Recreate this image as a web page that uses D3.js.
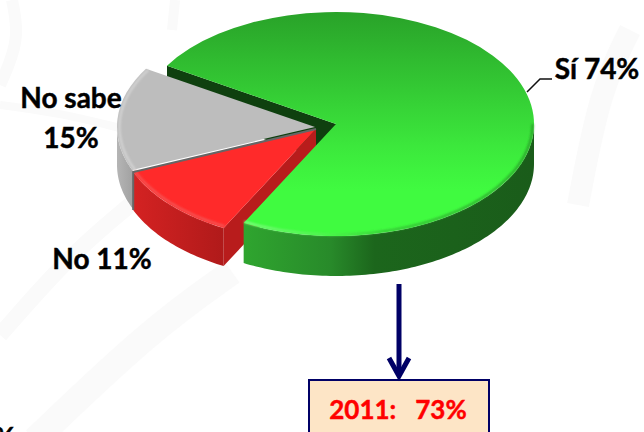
<!DOCTYPE html>
<html>
<head>
<meta charset="utf-8">
<script src="https://cdnjs.cloudflare.com/ajax/libs/d3/7.8.5/d3.min.js"></script>
<style>
  html, body { margin: 0; padding: 0; background: #fff; }
  svg { display: block; }
  text { font-family: Lato, "Open Sans", sans-serif; font-weight: bold; stroke-width: 0.45; paint-order: stroke; }
</style>
</head>
<body>
<script>
var categories = ['Sí', 'No', 'No sabe'];
var values = [74, 11, 15];
var previousYear = '2011:';
var previousValue = '73%';

var width = 644, height = 432;
var rx = 198, ry = 112;
var startAngle = -58.6 * Math.PI / 180;
var pies = d3.pie().sort(null).startAngle(startAngle).endAngle(startAngle + 2 * Math.PI)(values);

// where each slice got pulled out to, and how thick it looks
var centers = [[336, 124], [316, 129], [315, 127]];
var depths = [40, 38, 38];

var svg = d3.select('body').append('svg').attr('width', width).attr('height', height);
var defs = svg.append('defs');

function gradient (id, x2, y2, stops) {
  var g = defs.append('linearGradient').attr('id', id)
    .attr('x1', 0).attr('y1', 0).attr('x2', x2).attr('y2', y2);
  stops.forEach(function (s) {
    g.append('stop').attr('offset', s[0]).attr('stop-color', s[1]);
  });
}
gradient('greenTop', 0, 1, [[0, '#29a229'], [0.6, '#3ce83c'], [0.8, '#40fb40'], [1, '#40fb40']]);
gradient('greenSide', 1, 0, [[0, '#2fa52f'], [0.3, '#288a2a'], [0.45, '#1c661c'], [1, '#1a5c1a']]);
gradient('greenRim', 1, 0, [[0, '#8afc8a'], [0.3, '#4ff04f'], [0.5, '#35c035'], [1, '#2a9a2a']]);
gradient('redSide', 1, 0, [[0, '#d42222'], [1, '#b01a1a']]);
gradient('graySide', 1, 0, [[0, '#b5b5b5'], [1, '#9a9a9a']]);
defs.append('filter').attr('id', 'soft').append('feGaussianBlur').attr('stdDeviation', 0.8);

// faint swooshes in the slide background
var swoosh = d3.line().curve(d3.curveBasis);
[
  [[12, 0], [20, 40], [0, 85]],
  [[0, 105], [60, 113], [120, 128]],
  [[130, 205], [70, 255], [0, 335]],
  [[232, 272], [150, 330], [35, 440]],
  [[630, 30], [600, 90], [578, 205]],
  [[175, 0], [172, 30]]
].forEach(function (pts, i) {
  svg.append('path').attr('d', swoosh(pts))
    .attr('fill', 'none').attr('stroke', '#fafafa')
    .attr('stroke-width', [12, 8, 16, 26, 22, 10][i]);
});

function ptX (i, a) { return centers[i][0] + rx * Math.sin(a); }
function ptY (i, a) { return centers[i][1] - ry * Math.cos(a); }

function sidePath (i, a0, a1) {
  var steps = d3.range(a0, a1, 0.02).concat([a1]);
  return d3.area()
    .x(function (a) { return ptX(i, a); })
    .y0(function (a) { return ptY(i, a); })
    .y1(function (a) { return ptY(i, a) + depths[i]; })(steps);
}

function cutFace (i, a) {
  var c = centers[i];
  return d3.line()([
    c, [ptX(i, a), ptY(i, a)],
    [ptX(i, a), ptY(i, a) + depths[i]], [c[0], c[1] + depths[i]]
  ]) + 'Z';
}

function topFace (i, fill) {
  var arc = d3.arc().innerRadius(0).outerRadius(rx);
  return svg.append('path')
    .attr('transform', 'translate(' + centers[i] + ') scale(1,' + (ry / rx) + ')')
    .attr('d', arc(pies[i]))
    .attr('fill', fill);
}

function rimLight (i, a0, a1, color, inset) {
  var steps = d3.range(a0, a1, 0.02).concat([a1]);
  svg.append('path')
    .attr('d', d3.line()
      .x(function (a) { return centers[i][0] + (rx - inset) * Math.sin(a); })
      .y(function (a) { return centers[i][1] - (ry - inset) * Math.cos(a); })(steps))
    .attr('fill', 'none').attr('stroke', color).attr('stroke-width', 2)
    .attr('filter', 'url(#soft)');
}

var quarter = Math.PI / 2, threeQuarters = 1.5 * Math.PI;

// green cut face, seen behind the other two slices
svg.append('path').attr('d', cutFace(0, pies[0].startAngle)).attr('fill', '#0f400f');

// gray slice
svg.append('path').attr('d', sidePath(2, pies[2].startAngle - 0.08, threeQuarters)).attr('fill', 'url(#graySide)');
topFace(2, '#bdbdbd');
rimLight(2, threeQuarters - 0.5, pies[2].endAngle, '#d6d6d6', 2.5);

// red slice
svg.append('path').attr('d', cutFace(1, pies[1].startAngle)).attr('fill', '#b81c1c');
svg.append('path').attr('d', sidePath(1, pies[1].startAngle, pies[1].endAngle)).attr('fill', 'url(#redSide)');
topFace(1, '#ff2a2a');
rimLight(1, pies[1].startAngle, pies[1].endAngle, '#f25a5a', 2);
// dark seams where red meets the gray slice
var redEnd = [ptX(1, pies[1].endAngle), ptY(1, pies[1].endAngle)];
svg.append('path')
  .attr('d', d3.line()([centers[1], redEnd, [redEnd[0], redEnd[1] + depths[1]]]))
  .attr('fill', 'none').attr('stroke', '#666').attr('stroke-width', 2);

// green slice
svg.append('path').attr('d', sidePath(0, quarter, pies[0].endAngle)).attr('fill', 'url(#greenSide)');
topFace(0, 'url(#greenTop)');
rimLight(0, quarter, pies[0].endAngle, 'url(#greenRim)', 1.5);

// leader line of Si
svg.append('path')
  .attr('d', d3.line()([[527, 92], [540, 79], [552, 79]]))
  .attr('fill', 'none').attr('stroke', '#111').attr('stroke-width', 1.5);

function label (txt, x, y, size, fill) {
  svg.append('text').attr('x', x).attr('y', y)
    .attr('text-anchor', 'middle')
    .attr('font-size', size)
    .attr('fill', fill || '#000')
    .attr('stroke', fill || '#000')
    .text(txt);
}
label(categories[0] + ' ' + values[0] + '%', 597, 79, 28);
label(categories[2], 71, 108, 28);
label(values[2] + '%', 71, 148, 28);
label(categories[1] + ' ' + values[1] + '%', 102, 269, 28);
label('%', 4, 448, 28);

// 2011 box and arrow
svg.append('rect').attr('x', 309).attr('y', 380).attr('width', 180).attr('height', 70)
  .attr('fill', '#fde5c6').attr('stroke', '#000066').attr('stroke-width', 2);
svg.append('path')
  .attr('d', d3.line()([[399, 284], [399, 376]]))
  .attr('stroke', '#000066').attr('stroke-width', 5);
svg.append('path')
  .attr('d', d3.line()([[389, 358], [399, 376], [409, 358]]))
  .attr('fill', 'none').attr('stroke', '#000066').attr('stroke-width', 5);
label(previousYear + '\u00a0\u00a0\u00a0' + previousValue, 398, 419, 26, '#ff0000');
</script>
</body>
</html>
